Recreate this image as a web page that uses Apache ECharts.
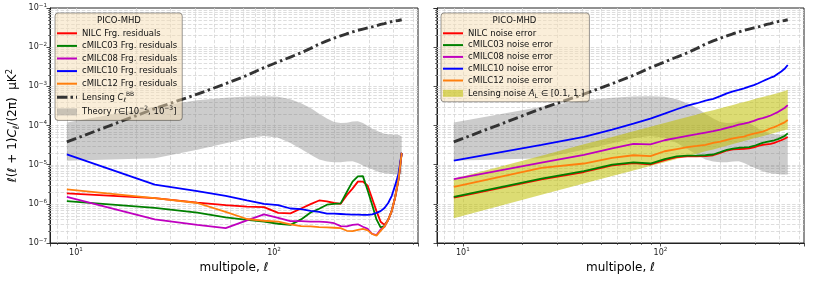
<!DOCTYPE html>
<html><head><meta charset="utf-8">
<script src="https://cdn.jsdelivr.net/npm/echarts@6/dist/echarts.min.js"></script>
<style>html,body{margin:0;padding:0;background:#fff}#c{width:814px;height:282px}</style>
</head><body><div id="c"></div>
<script>
// ---------------- data ----------------
const ell = [9,25,41,57,73,89,105,121,137,153,169,185,201,217,233,249,265,281,297,313,329,345,361,377,393,409,425,441];

// left panel: foreground residuals
const resNILC = [1.86e-6,1.4e-6,1.08e-6,9.3e-7,8.5e-7,8.2e-7,5.9e-7,5.7e-7,7.6e-7,9.8e-7,1.22e-6,1.15e-6,1.05e-6,1.0e-6,1.66e-6,2.45e-6,3.7e-6,3.7e-6,2.9e-6,1.35e-6,6.5e-7,3.5e-7,2.9e-7,3.9e-7,6.6e-7,1.5e-6,4.2e-6,2.0e-5];
const resC03 = [1.17e-6,7.9e-7,6.0e-7,4.5e-7,3.9e-7,3.5e-7,3.1e-7,2.9e-7,4.0e-7,6.0e-7,7.5e-7,9.5e-7,1.0e-6,1.03e-6,2.0e-6,3.7e-6,5.0e-6,5.1e-6,2.2e-6,9.3e-7,4.0e-7,2.5e-7,2.7e-7,3.9e-7,6.6e-7,1.5e-6,4.2e-6,2.0e-5];
const resC08 = [1.5e-6,4.0e-7,2.9e-7,2.4e-7,3.8e-7,5.4e-7,4.4e-7,3.6e-7,3.6e-7,3.5e-7,3.5e-7,3.4e-7,3.2e-7,2.7e-7,2.65e-7,2.9e-7,3.0e-7,2.6e-7,2.3e-7,1.7e-7,1.6e-7,2.2e-7,2.6e-7,3.9e-7,6.6e-7,1.5e-6,4.2e-6,2.0e-5];
const resC10 = [1.84e-5,3.1e-6,2.1e-6,1.6e-6,1.23e-6,1.0e-6,9.3e-7,7.6e-7,7.3e-7,6.6e-7,6.2e-7,5.6e-7,5.6e-7,5.5e-7,5.4e-7,5.3e-7,5.3e-7,5.2e-7,5.2e-7,5.4e-7,5.9e-7,6.5e-7,7.8e-7,1.05e-6,1.6e-6,3.0e-6,5.9e-6,2.0e-5];
const resC12 = [2.35e-6,1.4e-6,1.05e-6,6.2e-7,4.1e-7,3.7e-7,3.5e-7,3.0e-7,2.7e-7,2.65e-7,2.55e-7,2.5e-7,2.45e-7,2.4e-7,2.05e-7,2.0e-7,2.15e-7,2.3e-7,2.1e-7,1.7e-7,1.55e-7,2.05e-7,2.6e-7,3.9e-7,6.6e-7,1.5e-6,4.2e-6,2.0e-5];

// right panel: noise errors
const noiseNILC = [1.45e-6,4.2e-6,6.5e-6,9.6e-6,1.1e-5,1.02e-5,1.3e-5,1.55e-5,1.62e-5,1.62e-5,1.66e-5,1.74e-5,2.0e-5,2.3e-5,2.45e-5,2.5e-5,2.55e-5,2.6e-5,2.75e-5,3.0e-5,3.2e-5,3.3e-5,3.4e-5,3.6e-5,3.9e-5,4.2e-5,4.6e-5,5.1e-5];
const noiseC03 = [1.51e-6,4.4e-6,6.8e-6,1.0e-5,1.15e-5,1.07e-5,1.38e-5,1.62e-5,1.7e-5,1.7e-5,1.74e-5,1.82e-5,2.1e-5,2.4e-5,2.57e-5,2.7e-5,2.75e-5,2.8e-5,3.0e-5,3.3e-5,3.6e-5,3.8e-5,4.0e-5,4.2e-5,4.5e-5,4.9e-5,5.4e-5,6.3e-5];
const noiseC08 = [4.3e-6,1.12e-5,1.78e-5,2.6e-5,3.4e-5,3.3e-5,4.2e-5,4.8e-5,5.4e-5,6.0e-5,6.6e-5,7.2e-5,7.9e-5,8.7e-5,9.5e-5,1.05e-4,1.12e-4,1.2e-4,1.32e-4,1.45e-4,1.55e-4,1.66e-4,1.8e-4,2.0e-4,2.2e-4,2.5e-4,2.8e-4,3.3e-4];
const noiseC10 = [1.26e-5,3.2e-5,5.1e-5,7.9e-5,1.12e-4,1.5e-4,2.0e-4,2.6e-4,3.2e-4,3.7e-4,4.3e-4,4.8e-4,5.6e-4,6.6e-4,7.4e-4,8.1e-4,8.9e-4,9.8e-4,1.07e-3,1.2e-3,1.35e-3,1.5e-3,1.66e-3,1.8e-3,2.1e-3,2.4e-3,2.8e-3,3.5e-3];
const noiseC12 = [2.7e-6,8.3e-6,1.07e-5,1.5e-5,1.74e-5,1.66e-5,2.2e-5,2.5e-5,2.8e-5,3.0e-5,3.2e-5,3.6e-5,3.9e-5,4.3e-5,4.7e-5,5.0e-5,5.2e-5,5.8e-5,6.2e-5,6.6e-5,7.0e-5,7.6e-5,8.5e-5,9.1e-5,1.0e-4,1.1e-4,1.2e-4,1.38e-4];

// both panels
const lensingBB = [3.8e-5,2.7e-4,6.3e-4,1.17e-3,1.9e-3,3.0e-3,4.2e-3,5.6e-3,7.2e-3,9.3e-3,1.2e-2,1.45e-2,1.7e-2,1.95e-2,2.2e-2,2.45e-2,2.7e-2,2.9e-2,3.1e-2,3.3e-2,3.5e-2,3.8e-2,4.0e-2,4.3e-2,4.5e-2,4.7e-2,4.8e-2,5.0e-2];
const theoryHigh = [1.2e-4,3.0e-4,4.4e-4,5.1e-4,5.5e-4,5.6e-4,5.4e-4,4.7e-4,3.7e-4,2.8e-4,2.0e-4,1.5e-4,1.23e-4,1.15e-4,1.17e-4,1.26e-4,1.29e-4,1.15e-4,9.8e-5,8.3e-5,7.4e-5,6.6e-5,6.2e-5,6.0e-5,5.9e-5,5.8e-5,5.8e-5,5.2e-5];
const theoryLow = [1.26e-5,1.45e-5,2.4e-5,3.5e-5,4.7e-5,5.4e-5,4.9e-5,3.6e-5,2.5e-5,1.8e-5,1.35e-5,1.2e-5,1.15e-5,1.15e-5,1.2e-5,1.23e-5,1.1e-5,9.5e-6,8.5e-6,7.6e-6,6.8e-6,6.3e-6,6.0e-6,5.9e-6,5.8e-6,5.6e-6,5.6e-6,5.6e-6];
// right panel: lensing noise band A_L in [0.1, 1]
const lensNoiseLow = [4.3e-7,1.7e-6,3.3e-6,5.1e-6,7.1e-6,9.3e-6,1.15e-5,1.4e-5,1.65e-5,1.9e-5,2.2e-5,2.45e-5,2.75e-5,3.05e-5,3.35e-5,3.7e-5,4.0e-5,4.3e-5,4.7e-5,5.0e-5,5.35e-5,5.7e-5,6.05e-5,6.4e-5,6.8e-5,7.2e-5,7.6e-5,7.9e-5];
const lensNoiseHigh = [4.4e-6,1.7e-5,3.3e-5,5.1e-5,7.1e-5,9.3e-5,1.15e-4,1.4e-4,1.65e-4,1.9e-4,2.2e-4,2.45e-4,2.75e-4,3.05e-4,3.35e-4,3.7e-4,4.0e-4,4.3e-4,4.7e-4,5.0e-4,5.35e-4,5.7e-4,6.05e-4,6.4e-4,6.8e-4,7.2e-4,7.6e-4,8.2e-4];

// tick labels
const xTickValues = [10, 100];
const yTickValues = [1e-7, 1e-6, 1e-5, 1e-4, 1e-3, 1e-2, 1e-1];

const legendTitle = 'PICO-MHD';
const leftNames = ['NILC Frg. residuals','cMILC03 Frg. residuals','cMILC08 Frg. residuals','cMILC10 Frg. residuals','cMILC12 Frg. residuals','Lensing C_l^BB','Theory r'];
const rightNames = ['NILC noise error','cMILC03 noise error','cMILC08 noise error','cMILC10 noise error','cMILC12 noise error','Lensing noise A_L'];
const lineColors = ['#ff0000','#008000','#bf00bf','#0000ff','#ff7f0e'];

// ---------------- styling ----------------
const FONT = 'DejaVu Sans';
const X_MIN = 7.4, X_MAX = 533, Y_MIN = 1e-7, Y_MAX = 1e-1;

function sup(e){ return e < 0 ? '\u2212' + (-e) : String(e); }
function fmtPow(list){
  return function(v){
    for (const t of list){
      if (Math.abs(Math.log10(v) - Math.log10(t)) < 1e-6) return '{b|10}{s|' + sup(Math.round(Math.log10(t))) + '}';
    }
    return '';
  };
}
const tickRich = {
  b:{fontFamily:FONT,fontSize:8,color:'#222',lineHeight:11},
  s:{fontFamily:FONT,fontSize:5.6,color:'#222',lineHeight:6,verticalAlign:'top'}
};
const legRich = {
  n:{fontFamily:FONT,fontSize:8.5,color:'#111',lineHeight:10},
  m:{fontFamily:FONT,fontSize:8.5,color:'#111',lineHeight:12},
  mi:{fontFamily:FONT,fontSize:8.5,color:'#111',lineHeight:12,fontStyle:'italic'},
  sup:{fontFamily:FONT,fontSize:6,color:'#111',lineHeight:6,verticalAlign:'top'},
  sub:{fontFamily:FONT,fontSize:6,color:'#111',lineHeight:6,verticalAlign:'bottom'}
};
const legendLabels = {
  'Lensing C_l^BB':'{n|Lensing }{mi|C}{sub|\u2113}{sup|BB}',
  'Theory r':'{n|Theory }{mi|r}{m|\u2208[10}{sup|\u22122}{m|, 10}{sup|\u22123}{m|]}',
  'Lensing noise A_L':'{n|Lensing noise }{mi|A}{sub|L}{m| \u2208 [0.1, 1.]}'
};
const ICON_LINE = 'path://M0,0 M0,4 h20 v2 h-20 Z M20,10';
const ICON_DASHDOT = 'path://M0,0 M0,3.5 h10.5 v3 h-10.5 Z M13.5,3.5 h2.5 v3 h-2.5 Z M19,3.5 h1 v3 h-1 Z M20,10';
const ICON_PATCH = 'path://M0,0 M0,1.5 h20 v7 h-20 Z M20,10';

function makeX(gi){
  return {type:'log',gridIndex:gi,min:X_MIN,max:X_MAX,logBase:10,
    name:'multipole, \u2113',nameLocation:'middle',nameGap:18,
    nameTextStyle:{fontFamily:FONT,fontSize:12,color:'#000'},
    axisLine:{show:true,onZero:false,lineStyle:{color:'#222',width:1}},
    axisTick:{show:true,length:3.5,lineStyle:{color:'#222',width:0.8}},
    axisLabel:{show:true,margin:4,formatter:fmtPow(xTickValues),rich:tickRich},
    splitLine:{show:false},minorTick:{show:false},minorSplitLine:{show:false}};
}
function makeY(gi){
  return {type:'log',gridIndex:gi,min:Y_MIN,max:Y_MAX,logBase:10,
    name: gi===0 ? '{a|\u2113(\u2113 + 1)}{ai|C}{sub|\u2113}{a|/(2\u03c0)  \u03bcK}{sup|2}' : '',
    nameLocation:'middle',nameGap:29,nameRotate:90,
    nameTextStyle:{fontFamily:FONT,fontSize:12,color:'#000',rich:{
      a:{fontFamily:FONT,fontSize:12,color:'#000',lineHeight:16},
      ai:{fontFamily:FONT,fontSize:12,color:'#000',lineHeight:16,fontStyle:'italic'},
      sub:{fontFamily:FONT,fontSize:8.5,color:'#000',lineHeight:8,verticalAlign:'bottom'},
      sup:{fontFamily:FONT,fontSize:8.5,color:'#000',lineHeight:8,verticalAlign:'top'}}},
    axisLine:{show:true,onZero:false,lineStyle:{color:'#222',width:1}},
    axisTick:{show:true,length:3.5,lineStyle:{color:'#222',width:0.8}},
    axisLabel:{show:gi===0,margin:3,formatter:fmtPow(yTickValues),rich:tickRich},
    splitLine:{show:false},minorTick:{show:false},minorSplitLine:{show:false}};
}

// grid lines (major + minor) and minor ticks, decades 1..9
function decorItems(){
  const items = [];
  for (let d = 0; d <= 2; d++) for (let k = 1; k <= 9; k++){
    const v = k*Math.pow(10,d); if (v > X_MIN && v < X_MAX) items.push({ax:0,v:v,major:k===1});
  }
  for (let d = -7; d <= -2; d++) for (let k = 1; k <= 9; k++){
    const v = k*Math.pow(10,d); if (v > Y_MIN*1.0001 && v < Y_MAX*0.9999) items.push({ax:1,v:v,major:k===1});
  }
  return items;
}
function decorSeries(gi){
  const items = decorItems();
  return {type:'custom',xAxisIndex:gi,yAxisIndex:gi,z:1,silent:true,clip:false,
    data: items.map(it => it.ax===0 ? [it.v, 1e-4] : [20, it.v]),
    renderItem(params, api){
      const it = items[params.dataIndex];
      const cs = params.coordSys;
      const gs = {stroke:'#d4d4d4',lineWidth:0.8,lineDash:[3.5,1.8]};
      const ts = {stroke:'#222',lineWidth:0.6};
      const ch = [];
      if (it.ax===0){
        const px = Math.round(api.coord([api.value(0), 1e-4])[0]) + 0.5;
        ch.push({type:'line',shape:{x1:px,y1:cs.y,x2:px,y2:cs.y+cs.height},style:gs});
        if (!it.major) ch.push({type:'line',shape:{x1:px,y1:cs.y+cs.height,x2:px,y2:cs.y+cs.height+2},style:ts});
      } else {
        const py = Math.round(api.coord([20, api.value(1)])[1]) + 0.5;
        ch.push({type:'line',shape:{x1:cs.x,y1:py,x2:cs.x+cs.width,y2:py},style:gs});
        if (!it.major) ch.push({type:'line',shape:{x1:cs.x-2,y1:py,x2:cs.x,y2:py},style:ts});
      }
      return {type:'group',children:ch};
    }};
}
function bandSeries(name, lo, hi, color, gi){
  return {type:'custom',name:name,xAxisIndex:gi,yAxisIndex:gi,z:2,silent:true,
    itemStyle:{color:color},
    data:[[ell[0], lo[0]]],
    renderItem(params, api){
      const pts = [];
      for (let i = 0; i < ell.length; i++) pts.push(api.coord([ell[i], hi[i]]));
      for (let i = ell.length-1; i >= 0; i--) pts.push(api.coord([ell[i], lo[i]]));
      return {type:'polygon',shape:{points:pts},style:{fill:color}};
    }};
}
function lineSeries(name, vals, color, gi){
  return {type:'line',name:name,xAxisIndex:gi,yAxisIndex:gi,z:3,symbol:'none',showSymbol:false,
    data: ell.map((l,i)=>[l, vals[i]]),
    lineStyle:{color:color,width:1.8},itemStyle:{color:color},emphasis:{disabled:true},silent:true};
}
function lensSeries(name, gi){
  return {type:'line',name:name,xAxisIndex:gi,yAxisIndex:gi,z:4,symbol:'none',showSymbol:false,
    data: ell.map((l,i)=>[l, lensingBB[i]]),
    lineStyle:{color:'#333',width:2.9,type:[10,3.5,2.5,3.5],cap:'butt'},itemStyle:{color:'#333'},
    emphasis:{disabled:true},silent:true};
}

const GRAY = 'rgba(128,128,128,0.4)';
const OLIVE = 'rgba(191,191,0,0.55)';
const leftRes = [resNILC,resC03,resC08,resC10,resC12];
const rightNoise = [noiseNILC,noiseC03,noiseC08,noiseC10,noiseC12];

const series = [decorSeries(0), decorSeries(1),
  bandSeries(leftNames[6], theoryLow, theoryHigh, GRAY, 0),
  bandSeries('Theory band (noise panel)', theoryLow, theoryHigh, GRAY, 1),
  bandSeries(rightNames[5], lensNoiseLow, lensNoiseHigh, OLIVE, 1)];
for (let i = 0; i < 5; i++) series.push(lineSeries(leftNames[i], leftRes[i], lineColors[i], 0));
for (let i = 0; i < 5; i++) series.push(lineSeries(rightNames[i], rightNoise[i], lineColors[i], 1));
series.push(lensSeries(leftNames[5], 0));
series.push(lensSeries('Lensing (noise panel)', 1));

function legendCfg(names, left, gap, iconFor){
  return {orient:'vertical',left:left,top:13,padding:[15.3,5,2.5,2],
    itemWidth:20,itemHeight:10,itemGap:gap,selectedMode:false,z:10,
    backgroundColor:'rgba(245,222,179,0.5)',borderColor:'rgba(0,0,0,0.5)',borderWidth:0.8,borderRadius:3,
    itemStyle:{borderWidth:0},
    textStyle:{fontFamily:FONT,fontSize:8.5,color:'#111',lineHeight:10,rich:legRich},
    formatter: n => legendLabels[n] || ('{n|' + n + '}'),
    data: names.map(n => ({name:n, icon:iconFor(n)}))};
}

const chart = echarts.init(document.getElementById('c'), null, {renderer:'canvas'});
chart.setOption({
  animation:false,
  backgroundColor:'#fff',
  grid:[
    {left:50,top:8,width:368,height:235,show:true,borderColor:'#222',borderWidth:1,backgroundColor:'transparent',containLabel:false,outerBoundsMode:'none'},
    {left:437,top:8,width:367,height:235,show:true,borderColor:'#222',borderWidth:1,backgroundColor:'transparent',containLabel:false,outerBoundsMode:'none'}
  ],
  xAxis:[makeX(0), makeX(1)],
  yAxis:[makeY(0), makeY(1)],
  legend:[
    legendCfg(leftNames, 55, 2.6, n => n===leftNames[6] ? ICON_PATCH : (n===leftNames[5] ? ICON_DASHDOT : ICON_LINE)),
    legendCfg(rightNames, 441, 1.8, n => n===rightNames[5] ? ICON_PATCH : ICON_LINE)
  ],
  graphic:[
    {type:'text',x:119,y:20.5,z:20,style:{text:legendTitle,fill:'#111',font:'8.5px "DejaVu Sans"',align:'center',verticalAlign:'middle'}},
    {type:'text',x:514.5,y:20.7,z:20,style:{text:legendTitle,fill:'#111',font:'8.5px "DejaVu Sans"',align:'center',verticalAlign:'middle'}}
  ],
  series:series
});
</script>
</body></html>
